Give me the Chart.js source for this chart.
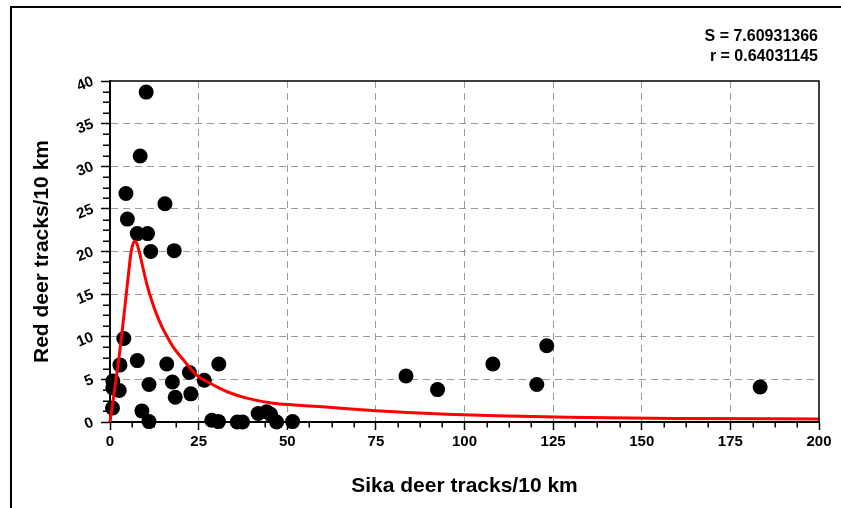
<!DOCTYPE html>
<html>
<head>
<meta charset="utf-8">
<script src="https://cdn.jsdelivr.net/npm/chart.js@4.4.1/dist/chart.umd.min.js"></script>
<style>
  html, body { margin: 0; padding: 0; background: #ffffff; }
  #wrap { width: 841px; height: 508px; position: relative; }
</style>
</head>
<body>
<div id="wrap"><canvas id="chart" width="841" height="508"></canvas></div>
<script>
// Observed track counts per 10 km transect
const sikaTracks = [10.2, 8.5, 4.5, 15.5, 4.9, 7.7, 10.6, 11.5, 18.1, 3.9,
                    7.7, 2.8, 16.0, 30.7, 22.4, 26.6, 0.8, 0.8, 17.6, 11.0,
                    2.6, 22.8, 18.4, 0.7, 9.0, 11.0, 28.7, 30.6, 35.9, 37.4,
                    41.8, 44.2, 45.3, 47.0, 51.5, 83.5, 92.4, 108.0, 120.4, 123.2,
                    183.4];
const redTracks = [38.7, 31.2, 26.8, 25.6, 23.8, 22.1, 22.1, 20.0, 20.1, 9.8,
                   7.2, 6.7, 6.8, 6.8, 5.8, 4.9, 4.8, 4.0, 4.7, 4.4,
                   3.7, 3.3, 2.9, 1.65, 1.3, 0.05, 0.2, 0.05, 0.0, 0.0,
                   1.0, 1.2, 0.9, 0.0, 0.05, 5.4, 3.8, 6.8, 4.4, 8.95,
                   4.1];

// Fitted curve, sampled along its path
const fitSika = [0, 1.4, 2.8, 4.2, 5.2, 5.9, 6.5, 7.05, 7.6, 8.3,
                 9.4, 10.5, 11.8, 13.0, 14.5, 16.4, 18.0, 20.7, 23.5, 25.4,
                 27.3, 31, 33, 38.6, 46, 52, 60, 67, 75, 84,
                 95, 109, 129, 159, 200];
const fitRed = [0, 4.1, 8.4, 13.5, 17.3, 19.8, 20.9, 21.2, 20.9, 19.9,
                17.9, 16.0, 14.2, 12.8, 11.3, 9.8, 8.7, 7.3, 5.9, 5.2,
                4.75, 3.95, 3.55, 2.8, 2.2, 2.0, 1.78, 1.55, 1.33, 1.12,
                0.92, 0.72, 0.56, 0.42, 0.35];

// Fit statistics
const fitStats = ['S = 7.60931366', 'r = 0.64031145'];

// Axis ranges and tick steps
const xRange = [0, 200], xMajor = 25, xMinor = 6.25;
const yRange = [0, 40], yMajor = 5, yMinor = 1.25;

const FONT = "'Liberation Sans', Arial, Helvetica, sans-serif";

const scatterPoints = sikaTracks.map((x, i) => ({ x: x, y: redTracks[i] }));
const fitPoints = fitSika.map((x, i) => ({ x: x, y: fitRed[i] }));

const gridColor = (ctx) => {
  const v = ctx.tick ? ctx.tick.value : null;
  const sc = ctx.scale;
  if (v === sc.min || v === sc.max) return 'rgba(0,0,0,0)';
  return '#9a9a9a';
};

const decorPlugin = {
  id: 'decor',
  afterDraw(chart) {
    const { ctx, chartArea: a, scales } = chart;
    const xs = scales.x, ys = scales.y;
    ctx.save();
    // minor tick marks
    ctx.strokeStyle = '#000';
    ctx.lineWidth = 1.5;
    ctx.beginPath();
    for (let v = xRange[0]; v <= xRange[1] + 1e-9; v += xMinor) {
      if (Math.abs(v / xMajor - Math.round(v / xMajor)) < 1e-9) continue;
      const px = Math.round(xs.getPixelForValue(v)) + 0.25;
      ctx.moveTo(px, a.bottom);
      ctx.lineTo(px, a.bottom + 5.5);
    }
    for (let v = yRange[0]; v <= yRange[1] + 1e-9; v += yMinor) {
      if (Math.abs(v / yMajor - Math.round(v / yMajor)) < 1e-9) continue;
      const py = Math.round(ys.getPixelForValue(v)) + 0.25;
      ctx.moveTo(a.left - 7, py);
      ctx.lineTo(a.left, py);
    }
    ctx.stroke();
    // top and right edges of the plot frame
    ctx.lineWidth = 1.5;
    ctx.beginPath();
    ctx.moveTo(a.left, a.top);
    ctx.lineTo(a.right, a.top);
    ctx.lineTo(a.right, a.bottom);
    ctx.stroke();
    // outer border
    ctx.lineWidth = 2;
    ctx.strokeRect(11, 7, 900, 600);
    // fit statistics
    ctx.fillStyle = '#000';
    ctx.font = 'bold 16px ' + FONT;
    ctx.textAlign = 'right';
    ctx.textBaseline = 'alphabetic';
    ctx.fillText(fitStats[0], 818, 41);
    ctx.fillText(fitStats[1], 818, 61);
    ctx.restore();
  }
};

new Chart(document.getElementById('chart'), {
  type: 'scatter',
  data: {
    datasets: [
      {
        type: 'line',
        label: 'fit',
        data: fitPoints,
        borderColor: '#ff0000',
        borderWidth: 3,
        pointRadius: 0,
        fill: false,
        cubicInterpolationMode: 'monotone',
        clip: false,
        order: 0
      },
      {
        type: 'scatter',
        label: 'tracks',
        data: scatterPoints,
        backgroundColor: '#000',
        borderColor: '#000',
        borderWidth: 0,
        pointRadius: 7.5,
        clip: false,
        order: 1
      }
    ]
  },
  options: {
    responsive: false,
    devicePixelRatio: 1,
    animation: false,
    layout: { padding: { top: 81, right: 22, left: 0, bottom: 0 } },
    plugins: { legend: { display: false }, tooltip: { enabled: false } },
    scales: {
      x: {
        type: 'linear',
        min: xRange[0], max: xRange[1],
        afterFit: (s) => { s.height = 86; },
        ticks: {
          stepSize: xMajor, autoSkip: false, maxRotation: 0, padding: 3,
          color: '#000', font: { family: FONT, size: 15, weight: 'bold' }
        },
        grid: {
          color: gridColor, lineWidth: 1,
          tickColor: '#000', tickLength: 8, tickWidth: 1.5, tickBorderDash: []
        },
        border: { color: '#000', width: 2, dash: [7, 5] },
        title: {
          display: true, text: 'Sika deer tracks/10 km', color: '#000',
          font: { family: FONT, size: 21, weight: 'bold' },
          padding: { top: 0, bottom: 9 }
        }
      },
      y: {
        type: 'linear',
        min: yRange[0], max: yRange[1],
        afterFit: (s) => { s.width = 110; },
        ticks: {
          stepSize: yMajor, minRotation: 22, maxRotation: 22, padding: 8,
          color: '#000', font: { family: FONT, size: 15, weight: 'bold' }
        },
        grid: {
          color: gridColor, lineWidth: 1,
          tickColor: '#000', tickLength: 9, tickWidth: 1.5, tickBorderDash: []
        },
        border: { color: '#000', width: 2, dash: [7, 5] },
        title: {
          display: true, text: 'Red deer tracks/10 km', color: '#000',
          font: { family: FONT, size: 21, weight: 'bold' },
          padding: { top: 30, bottom: 0 }
        }
      }
    }
  },
  plugins: [decorPlugin]
});
</script>
</body>
</html>
